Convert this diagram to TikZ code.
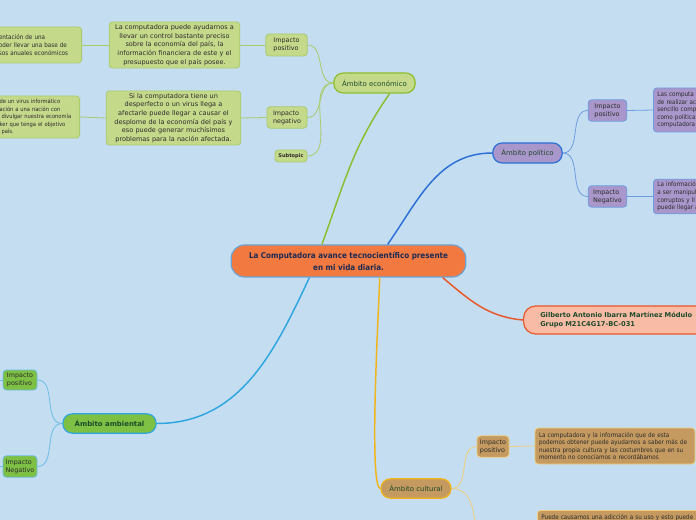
\documentclass[tikz,border=0pt]{standalone}
\usepackage{fontspec}
\setmainfont{DejaVu Sans}
\newfontfamily\condfont{DejaVu Sans Condensed}
\usepackage{tikz}
\usetikzlibrary{positioning, calc}
\definecolor{skyback}{HTML}{C4DDF0}
\definecolor{coretopic}{HTML}{F27A40}
\definecolor{coreedge}{HTML}{6BA3D6}
\definecolor{corenavy}{HTML}{1B2A55}
\definecolor{econfill}{HTML}{C5D98B}
\definecolor{econedge}{HTML}{8CBE2F}
\definecolor{econthin}{HTML}{A9CB6C}
\definecolor{polfill}{HTML}{A996CA}
\definecolor{poledge}{HTML}{2C6FD6}
\definecolor{polthin}{HTML}{6D9EE3}
\definecolor{authfill}{HTML}{F8BBA6}
\definecolor{authedge}{HTML}{E8582B}
\definecolor{ambfill}{HTML}{7DC044}
\definecolor{ambedge}{HTML}{2EA6E0}
\definecolor{ambthin}{HTML}{6CBDE8}
\definecolor{cultfill}{HTML}{C49A60}
\definecolor{cultedge}{HTML}{F2B41C}
\definecolor{cultthin}{HTML}{F1CF7A}
\definecolor{topictext}{HTML}{1D4A2B}
\definecolor{leaftext}{HTML}{2B2B2B}

\begin{document}
\begin{tikzpicture}[x=0.75pt, y=0.75pt,
  mainnode/.style={draw, line width=0.9pt, rounded corners=7pt, inner sep=0pt, align=center, text=topictext, font=\fontsize{5.2}{6.5}\selectfont},
  leaf/.style={draw, line width=0.6pt, rounded corners=2.5pt, inner sep=0pt, align=left, text=leaftext, font=\fontsize{4.8}{6}\selectfont},
  note/.style={leaf, inner xsep=3pt, font=\condfont\fontsize{4.7}{5.7}\selectfont},
  branch/.style={line width=1.1pt},
  twig/.style={line width=0.6pt}]
  % Background
  \fill[skyback] (0,0) rectangle (696,-520);
  \useasboundingbox (0,0) rectangle (696,-520);

  % Central topic
  \node[mainnode, fill=coretopic, draw=coreedge, minimum width=176pt, minimum height=24pt, rounded corners=10pt, text=corenavy, font=\condfont\bfseries\fontsize{6}{9}\selectfont] (central) at (348.5,-261) {La Computadora avance tecnocientífico presente\\en mi vida diaria.};

  % Ambito economico
  \node[mainnode, fill=econfill, draw=econedge, minimum width=61pt, minimum height=15pt] (econ) at (374.5,-83) {Ámbito económico};
  \node[leaf, fill=econfill, draw=econthin, minimum width=31pt, minimum height=16.5pt] (econpos) at (286.5,-45) {Impacto\\positivo};
  \node[leaf, fill=econfill, draw=econthin, minimum width=30pt, minimum height=16pt] (econneg) at (287,-117.5) {Impacto\\negativo};
  \node[leaf, fill=econfill, draw=econthin, minimum width=24pt, minimum height=9pt, font=\bfseries\fontsize{3.8}{4.5}\selectfont] (econsub) at (291,-156) {Subtopic};
  \node[leaf, fill=econfill, draw=econthin, align=center, inner xsep=3pt, text width=92pt, minimum height=34.5pt, font=\fontsize{4.9}{6.5}\selectfont] (econpostext) at (174.5,-45) {La computadora puede ayudarnos a\\llevar un control bastante preciso\\sobre la economía del país, la\\información financiera de este y el\\presupuesto que el país posee.};
  \node[leaf, fill=econfill, draw=econthin, align=center, inner xsep=3pt, text width=95pt, minimum height=40.5pt, font=\fontsize{4.9}{6.5}\selectfont] (econnegtext) at (173.5,-118) {Si la computadora tiene un\\desperfecto o un virus llega a\\afectarle puede llegar a causar el\\desplome de la economía del país y\\eso puede generar muchísimos\\problemas para la nación afectada.};
  \node[note, fill=econfill, draw=econthin, anchor=east, text width=59pt, minimum height=27pt] (econposfar) at (82,-45) {entación de una\\oder llevar una base de\\sos anuales económicos};
  \node[note, fill=econfill, draw=econthin, anchor=east, text width=57pt, minimum height=31.5pt, font=\condfont\fontsize{4.3}{5.6}\selectfont] (econnegfar) at (80,-117) {de un virus informático\\ación a una nación con\\\ divulgar nuestra economía\\ker que tenga el objetivo\\\ país.};

  % Ambito politico
  \node[mainnode, fill=polfill, draw=poledge, minimum width=52pt, minimum height=15pt] (pol) at (527.5,-153) {Ámbito político};
  \node[leaf, fill=polfill, draw=polthin, minimum width=29pt, minimum height=16pt] (polpos) at (607.5,-110.5) {Impacto\\positivo};
  \node[leaf, fill=polfill, draw=polthin, minimum width=29pt, minimum height=16pt] (polneg) at (607.5,-196.5) {Impacto\\Negativo};
  \node[note, fill=polfill, draw=polthin, anchor=west, text width=100pt, minimum height=33pt] (polpostext) at (653,-110) {Las computa\\de realizar act\\sencillo comp\\como politica\\computadora};
  \node[note, fill=polfill, draw=polthin, anchor=west, text width=100pt, minimum height=26pt] (polnegtext) at (653,-196.5) {La informació\\a ser manipul\\corruptos y ll\\puede llegar a};

  % Autor
  \node[mainnode, fill=authfill, draw=authedge, anchor=west, minimum height=21pt, align=left, inner xsep=12.5pt, text width=150pt, rounded corners=9pt, font=\bfseries\fontsize{5}{7}\selectfont] (author) at (523,-320) {Gilberto Antonio Ibarra Martínez Módulo\\Grupo M21C4G17-BC-031};

  % Ambito ambiental
  \node[mainnode, fill=ambfill, draw=ambedge, minimum width=70pt, minimum height=14.5pt, font=\bfseries\fontsize{5.2}{6.5}\selectfont] (amb) at (109.5,-423.5) {Ámbito ambiental};
  \node[leaf, fill=ambfill, draw=ambthin, minimum width=25.5pt, minimum height=15pt] (ambpos) at (20,-380) {Impacto\\positivo};
  \node[leaf, fill=ambfill, draw=ambthin, minimum width=25.5pt, minimum height=16pt] (ambneg) at (20,-466.5) {Impacto\\Negativo};
  \coordinate (ambposout) at (-10,-380);
  \coordinate (ambnegout) at (-10,-466.5);

  % Ambito cultural
  \node[mainnode, fill=cultfill, draw=cultedge, minimum width=52.5pt, minimum height=14.5pt] (cult) at (416,-488.5) {Ámbito cultural};
  \node[leaf, fill=cultfill, draw=cultthin, minimum width=24pt, minimum height=16pt] (cultpos) at (493,-446.5) {Impacto\\positivo};
  \node[note, fill=cultfill, draw=cultthin, text width=114pt, minimum height=27pt] (cultpostext) at (615,-446) {La computadora y la información que de esta\\podemos obtener puede ayudarnos a saber más de\\nuestra propia cultura y las costumbres que en su\\momento no conocíamos o recordábamos};
  \node[note, fill=cultfill, draw=cultthin, anchor=north west, text width=150pt, minimum height=30pt, text depth=20pt] (cultnegtext) at (537,-510) {Puede causarnos una adicción a su uso y esto puede};
  \coordinate (cultnegout) at (478,-545);

  % Main branches
  \draw[branch, econedge] (central.148) to[out=70, in=235] (econ.-35);
  \draw[branch, poledge] (central.23) to[out=55, in=180] (pol.west);
  \draw[branch, authedge] (central.-10) to[out=-40, in=175] (author.west);
  \draw[branch, ambedge] (central.-157) to[out=-115, in=0] (amb.east);
  \draw[branch, cultedge] (central.-28) to[out=-90, in=180, looseness=0.15] (cult.west);

  % Sub branches
  \foreach \kid in {econpos, econneg, econsub}
    \draw[twig, econthin] (econ.west) to[out=180, in=0] (\kid.east);
  \draw[twig, econthin] (econpos.west) -- (econpostext.east);
  \draw[twig, econthin] (econneg.west) -- (econnegtext.east);
  \draw[twig, econthin] (econpostext.west) -- (econposfar.east);
  \draw[twig, econthin] (econnegtext.west) -- (econnegfar.east);

  \foreach \kid in {polpos, polneg}
    \draw[twig, polthin] (pol.east) to[out=0, in=180] (\kid.west);
  \draw[twig, polthin] (polpos.east) -- (polpostext.west);
  \draw[twig, polthin] (polneg.east) -- (polnegtext.west);

  \foreach \kid in {ambpos, ambneg}
    \draw[twig, ambthin] (amb.west) to[out=180, in=0] (\kid.east);
  \draw[twig, ambthin] (ambpos.west) -- (ambposout);
  \draw[twig, ambthin] (ambneg.west) -- (ambnegout);

  \draw[twig, cultthin] (cult.east) to[out=0, in=180] (cultpos.west);
  \draw[twig, cultthin] (cult.east) to[out=0, in=100] (cultnegout);
  \draw[twig, cultthin] (cultpos.east) -- (cultpostext.west);
\end{tikzpicture}
\end{document}
